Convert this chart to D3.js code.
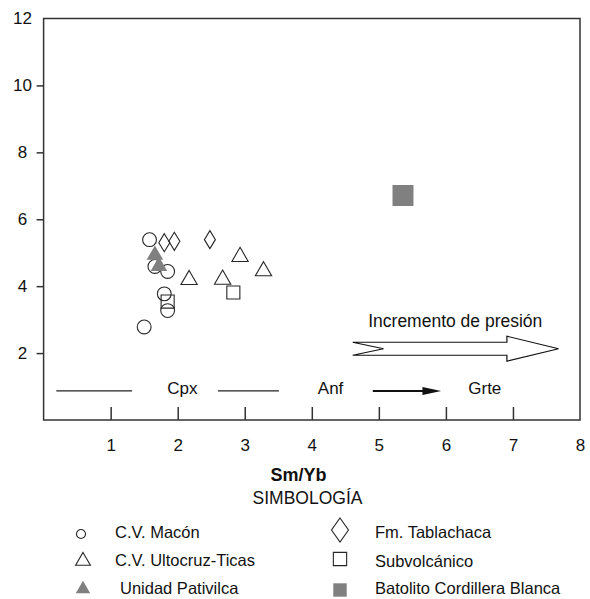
<!DOCTYPE html>
<html>
<head>
<meta charset="utf-8">
<script src="https://cdn.jsdelivr.net/npm/d3@7"></script>
<style>
  body { margin: 0; background: #fff; }
  svg { display: block; font-family: "Liberation Sans", Arial, sans-serif; }
</style>
</head>
<body>
<div id="graph"></div>
<script>
//Size of the page.
let w = 590;
let h = 599;

//Points of each group as [Sm/Yb, y].
const macon = [[1.58, 5.39], [1.66, 4.59], [1.85, 4.44], [1.80, 3.77], [1.85, 3.27], [1.50, 2.78]];
const ultocruz = [[2.17, 4.19], [2.67, 4.20], [2.93, 4.88], [3.28, 4.45]];
const pativilca = [[1.66, 4.93], [1.72, 4.60]];
const tablachaca = [[1.80, 5.30], [1.95, 5.34], [2.48, 5.39]];
const subvolcanico = [[2.83, 3.81], [1.85, 3.54]];
const batolito = [[5.36, 6.71]];

//Tick labels.
const xTicks = [1, 2, 3, 4, 5, 6, 7, 8];
const yTicks = [2, 4, 6, 8, 10, 12];

//Texts of the mineral line and the pressure arrow (in Sm/Yb units).
const phaseLabels = [["Cpx", 2.07], ["Anf", 4.28], ["Grte", 6.58]];
const pressureText = "Incremento de presión";

const svg = d3.select("#graph")
  .append("svg")
  .attr("width", w)
  .attr("height", h);

//Scales.
const x = d3.scaleLinear().domain([0, 8]).range([43.6, 580]);
const y = d3.scaleLinear().domain([0, 12]).range([420, 18.5]);

//Frame around the plot.
svg.append("rect")
  .attr("x", x(0))
  .attr("y", y(12))
  .attr("width", x(8) - x(0))
  .attr("height", y(0) - y(12))
  .attr("fill", "none")
  .attr("stroke", "#333")
  .attr("stroke-width", 1.5);

//X axis, ticks pointing inside.
const xAxis = svg.append("g")
  .attr("transform", "translate(0," + y(0) + ")")
  .call(d3.axisBottom(x).tickValues(xTicks).tickSize(-13).tickPadding(19).tickFormat(d3.format("d")));
xAxis.select(".domain").remove();
xAxis.selectAll(".tick").filter(d => d === 8).select("line").remove();
xAxis.selectAll("line").attr("stroke", "#333").attr("stroke-width", 1.5);
xAxis.selectAll("text").attr("font-size", 17).attr("fill", "#111")
  .attr("font-family", "Liberation Sans, Arial, sans-serif");

//Y axis, short ticks outside.
const yAxis = svg.append("g")
  .attr("transform", "translate(" + x(0) + ",0)")
  .call(d3.axisLeft(y).tickValues(yTicks).tickSize(7).tickFormat(d3.format("d")));
yAxis.select(".domain").remove();
yAxis.selectAll(".tick").filter(d => d === 12).select("line").remove();
yAxis.selectAll("line").attr("stroke", "#333").attr("stroke-width", 1.5);
yAxis.selectAll("text")
  .attr("x", 22.5 - x(0))
  .attr("text-anchor", "middle")
  .attr("font-size", 17).attr("fill", "#111")
  .attr("font-family", "Liberation Sans, Arial, sans-serif");

//Axis title and legend title.
svg.append("text")
  .attr("x", 298.5).attr("y", 481)
  .attr("text-anchor", "middle")
  .attr("font-size", 18).attr("font-weight", "bold").attr("fill", "#111")
  .text("Sm/Yb");

svg.append("text")
  .attr("x", 307.5).attr("y", 503.5)
  .attr("text-anchor", "middle")
  .attr("font-size", 17.5).attr("fill", "#111")
  .text("SIMBOLOGÍA");

//Builds a marker path.
const diamond = (wd, ht) => "M0," + (-ht / 2) + "L" + (wd / 2) + ",0L0," + (ht / 2) + "L" + (-wd / 2) + ",0Z";
const sym = (type, size) => d3.symbol().type(type).size(size)();

//Draws one group of points.
function drawGroup(data, path, fill) {
  svg.append("g")
    .selectAll("path")
    .data(data)
    .enter()
    .append("path")
    .attr("transform", d => "translate(" + x(d[0]) + "," + y(d[1]) + ")")
    .attr("d", path)
    .attr("fill", fill)
    .attr("stroke", fill === "none" ? "#262626" : "none")
    .attr("stroke-width", 1.1);
}

drawGroup(subvolcanico, sym(d3.symbolSquare, 170), "none");
drawGroup(macon, sym(d3.symbolCircle, 150), "none");
drawGroup(tablachaca, diamond(11, 18), "none");
drawGroup(ultocruz, sym(d3.symbolTriangle, 115), "none");
drawGroup(pativilca, sym(d3.symbolTriangle, 120), "#808080");
drawGroup(batolito, sym(d3.symbolSquare, 440), "#808080");

//Pressure arrow (hollow, notched tail).
const ay = y(2.13);
const ax0 = x(4.61), axn = x(5.07), axb = x(6.91), axt = x(7.68);
svg.append("path")
  .attr("d", "M" + ax0 + "," + (ay - 6.5) + "L" + axb + "," + (ay - 6.5) + "L" + axb + "," + (ay - 12.5) +
    "L" + axt + "," + ay + "L" + axb + "," + (ay + 12.5) + "L" + axb + "," + (ay + 6.5) +
    "L" + ax0 + "," + (ay + 6.5) + "L" + axn + "," + ay + "Z")
  .attr("fill", "none")
  .attr("stroke", "#111")
  .attr("stroke-width", 1.2);

svg.append("text")
  .attr("x", x(6.14)).attr("y", y(2.79))
  .attr("text-anchor", "middle")
  .attr("font-size", 17.5).attr("fill", "#111")
  .text(pressureText);

//Mineral line: Cpx, Anf, Grte.
const ly = y(0.87);
[[0.19, 1.32], [2.60, 3.51]].forEach(s => {
  svg.append("line")
    .attr("x1", x(s[0])).attr("x2", x(s[1]))
    .attr("y1", ly).attr("y2", ly)
    .attr("stroke", "#222").attr("stroke-width", 1.2);
});
svg.append("line")
  .attr("x1", x(4.91)).attr("x2", x(5.67))
  .attr("y1", ly).attr("y2", ly)
  .attr("stroke", "#111").attr("stroke-width", 2);
svg.append("path")
  .attr("d", "M" + x(5.65) + "," + (ly - 4) + "L" + x(5.93) + "," + ly + "L" + x(5.65) + "," + (ly + 4) + "Z")
  .attr("fill", "#111");

svg.selectAll(".phase")
  .data(phaseLabels)
  .enter()
  .append("text")
  .attr("class", "phase")
  .attr("x", d => x(d[1]))
  .attr("y", ly + 3.5)
  .attr("text-anchor", "middle")
  .attr("font-size", 17).attr("fill", "#111")
  .text(d => d[0]);

//Legend.
const legendItems = [
  { label: "C.V. Macón", sx: 81, sy: 534, tx: 115, ty: 538, path: sym(d3.symbolCircle, 64), fill: "none" },
  { label: "C.V. Ultocruz-Ticas", sx: 83, sy: 561, tx: 115, ty: 566, path: sym(d3.symbolTriangle, 95), fill: "none" },
  { label: "Unidad Pativilca", sx: 83, sy: 589, tx: 120, ty: 594, path: sym(d3.symbolTriangle, 90), fill: "#808080" },
  { label: "Fm. Tablachaca", sx: 340, sy: 530, tx: 375, ty: 538, path: diamond(17, 24), fill: "none" },
  { label: "Subvolcánico", sx: 340, sy: 559, tx: 375, ty: 567, path: sym(d3.symbolSquare, 177), fill: "none" },
  { label: "Batolito Cordillera Blanca", sx: 340, sy: 590, tx: 375, ty: 594, path: sym(d3.symbolSquare, 180), fill: "#808080" }
];

const legend = svg.append("g");
legend.selectAll("path")
  .data(legendItems)
  .enter()
  .append("path")
  .attr("transform", d => "translate(" + d.sx + "," + d.sy + ")")
  .attr("d", d => d.path)
  .attr("fill", d => d.fill)
  .attr("stroke", d => d.fill === "none" ? "#262626" : "none")
  .attr("stroke-width", 1.1);
legend.selectAll("text")
  .data(legendItems)
  .enter()
  .append("text")
  .attr("x", d => d.tx)
  .attr("y", d => d.ty)
  .attr("font-size", 16.5).attr("fill", "#111")
  .text(d => d.label);
</script>
</body>
</html>
